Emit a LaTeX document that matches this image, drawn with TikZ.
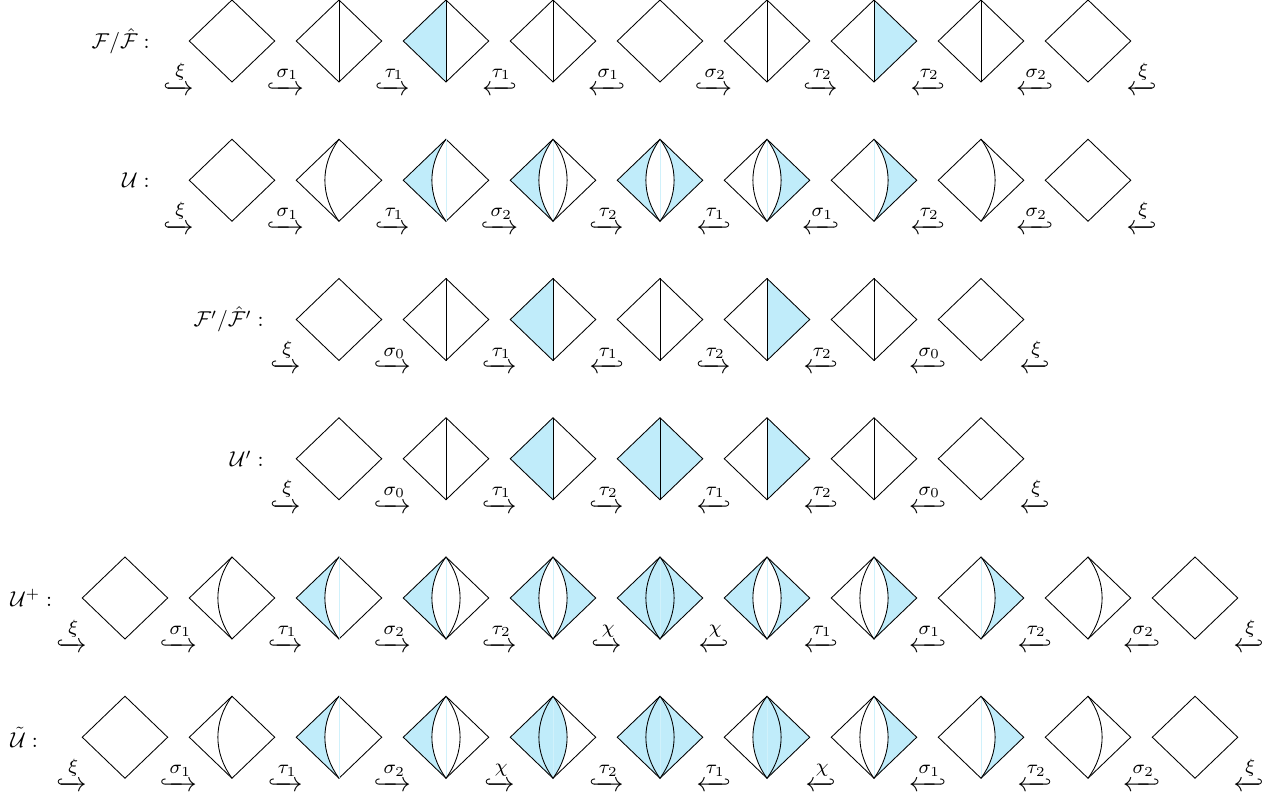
\RequirePackage{fix-cm}
\documentclass[tikz,border=0pt]{standalone}
\usepackage{amsmath,mathtools}
\usetikzlibrary{shapes.geometric,backgrounds}
\definecolor{cellblue}{RGB}{192,236,250}

% pieces of a diamond node #1
\newcommand{\leftHalf}[1]{(#1.north) -- (#1.west) -- (#1.south) -- cycle}
\newcommand{\rightHalf}[1]{(#1.north) -- (#1.east) -- (#1.south) -- cycle}
\newcommand{\leftOuter}[1]{(#1.north) -- (#1.west) -- (#1.south) to[bend left=36] (#1.north)}
\newcommand{\rightOuter}[1]{(#1.north) -- (#1.east) -- (#1.south) to[bend right=36] (#1.north)}
\newcommand{\lensPath}[1]{(#1.north) to[bend right=36] (#1.south) to[bend right=36] (#1.north)}
\newcommand{\leftArc}[1]{(#1.north) to[bend right=36] (#1.south)}
\newcommand{\rightArc}[1]{(#1.north) to[bend left=36] (#1.south)}
\newcommand{\midLine}[1]{(#1.north) -- (#1.south)}

\begin{document}
\begin{tikzpicture}[
    x=1.749cm, y=2.276cm,
    tile/.style={draw, diamond, minimum width=1.396cm, minimum height=1.341cm, inner sep=0pt, outer sep=0pt},
    tinted/.style={fill=cellblue},
    seam/.style={draw=cellblue!75, line width=0.3pt},
    arrowlab/.style={anchor=base, inner sep=0pt, font=\fontsize{12.8}{15}\selectfont},
    rowlab/.style={inner sep=0pt}
]
\useasboundingbox (-1.168,0.2945) rectangle (10.757,-5.474);

% Row 1: F / F-hat
\node[rowlab, anchor=east] (labA) at (0.234,0) {$\mathcal{F}/\hat{\mathcal{F}}:$};
\foreach \c in {1,...,9} \node[tile] (a\c) at (\c,0) {};
\begin{scope}[on background layer]
\fill[tinted] \leftHalf{a3};
\fill[tinted] \rightHalf{a7};
\end{scope}
\foreach \n in {a2,a3,a4,a6,a7,a8} \draw \midLine{\n};
\foreach \x/\l [count=\i] in {0.5/\xi, 1.5/\sigma_1, 2.5/\tau_1, 5.5/\sigma_2, 6.5/\tau_2}
  \node[arrowlab] (a-r\i) at (\x,-0.39) {$\xhookrightarrow{\l}$};
\foreach \x/\l [count=\i] in {3.5/\tau_1, 4.5/\sigma_1, 7.5/\tau_2, 8.5/\sigma_2, 9.5/\xi}
  \node[arrowlab] (a-l\i) at (\x,-0.39) {$\xhookleftarrow{\l}$};

% Row 2: U
\node[rowlab, anchor=east] (labB) at (0.234,-1) {$\mathcal{U}:$};
\foreach \c in {1,...,9} \node[tile] (b\c) at (\c,-1) {};
\begin{scope}[on background layer]
\fill[tinted] \leftOuter{b3};
\fill[tinted] \leftOuter{b4};
\fill[tinted] \leftOuter{b5};
\fill[tinted] \rightOuter{b5};
\fill[tinted] \rightOuter{b6};
\fill[tinted] \rightOuter{b7};
\end{scope}
\draw \leftArc{b2};
\draw[seam] \midLine{b3}; \draw \leftArc{b3};
\foreach \n in {b4,b5,b6} {\draw[seam] \midLine{\n}; \draw \lensPath{\n};}
\draw[seam] \midLine{b7}; \draw \rightArc{b7};
\draw \rightArc{b8};
\foreach \x/\l [count=\i] in {0.5/\xi, 1.5/\sigma_1, 2.5/\tau_1, 3.5/\sigma_2, 4.5/\tau_2}
  \node[arrowlab] (b-r\i) at (\x,-1.39) {$\xhookrightarrow{\l}$};
\foreach \x/\l [count=\i] in {5.5/\tau_1, 6.5/\sigma_1, 7.5/\tau_2, 8.5/\sigma_2, 9.5/\xi}
  \node[arrowlab] (b-l\i) at (\x,-1.39) {$\xhookleftarrow{\l}$};

% Row 3: F' / F-hat'
\node[rowlab, anchor=east] (labC) at (1.299,-2) {$\mathcal{F}'/\hat{\mathcal{F}}':$};
\foreach \c in {2,...,8} \node[tile] (c\c) at (\c,-2) {};
\begin{scope}[on background layer]
\fill[tinted] \leftHalf{c4};
\fill[tinted] \rightHalf{c6};
\end{scope}
\foreach \n in {c3,c4,c5,c6,c7} \draw \midLine{\n};
\foreach \x/\l [count=\i] in {1.5/\xi, 2.5/\sigma_0, 3.5/\tau_1, 5.5/\tau_2}
  \node[arrowlab] (c-r\i) at (\x,-2.39) {$\xhookrightarrow{\l}$};
\foreach \x/\l [count=\i] in {4.5/\tau_1, 6.5/\tau_2, 7.5/\sigma_0, 8.5/\xi}
  \node[arrowlab] (c-l\i) at (\x,-2.39) {$\xhookleftarrow{\l}$};

% Row 4: U'
\node[rowlab, anchor=east] (labD) at (1.299,-3) {$\mathcal{U}':$};
\foreach \c in {2,...,8} \node[tile] (d\c) at (\c,-3) {};
\begin{scope}[on background layer]
\fill[tinted] \leftHalf{d4};
\fill[tinted] \leftHalf{d5};
\fill[tinted] \rightHalf{d5};
\fill[tinted] \rightHalf{d6};
\end{scope}
\foreach \n in {d3,d4,d5,d6,d7} \draw \midLine{\n};
\foreach \x/\l [count=\i] in {1.5/\xi, 2.5/\sigma_0, 3.5/\tau_1, 4.5/\tau_2}
  \node[arrowlab] (d-r\i) at (\x,-3.39) {$\xhookrightarrow{\l}$};
\foreach \x/\l [count=\i] in {5.5/\tau_1, 6.5/\tau_2, 7.5/\sigma_0, 8.5/\xi}
  \node[arrowlab] (d-l\i) at (\x,-3.39) {$\xhookleftarrow{\l}$};

% Row 5: U+
\node[rowlab, anchor=west] (labE) at (-1.075,-4) {$\mathcal{U}^+:$};
\foreach \c in {0,...,10} \node[tile] (e\c) at (\c,-4) {};
\begin{scope}[on background layer]
\fill[tinted] \leftOuter{e2};
\fill[tinted] \leftOuter{e3};
\fill[tinted] \leftOuter{e4};
\fill[tinted] \rightOuter{e4};
\fill[tinted] \leftHalf{e5};
\fill[tinted] \rightHalf{e5};
\fill[tinted] \leftOuter{e6};
\fill[tinted] \rightOuter{e6};
\fill[tinted] \rightOuter{e7};
\fill[tinted] \rightOuter{e8};
\end{scope}
\draw \leftArc{e1};
\draw[seam] \midLine{e2}; \draw \leftArc{e2};
\foreach \n in {e3,e4,e5,e6,e7} {\draw[seam] \midLine{\n}; \draw \lensPath{\n};}
\draw[seam] \midLine{e8}; \draw \rightArc{e8};
\draw \rightArc{e9};
\foreach \x/\l [count=\i] in {-0.5/\xi, 0.5/\sigma_1, 1.5/\tau_1, 2.5/\sigma_2, 3.5/\tau_2, 4.5/\chi}
  \node[arrowlab] (e-r\i) at (\x,-4.39) {$\xhookrightarrow{\l}$};
\foreach \x/\l [count=\i] in {5.5/\chi, 6.5/\tau_1, 7.5/\sigma_1, 8.5/\tau_2, 9.5/\sigma_2, 10.5/\xi}
  \node[arrowlab] (e-l\i) at (\x,-4.39) {$\xhookleftarrow{\l}$};

% Row 6: U-tilde
\node[rowlab, anchor=west] (labF) at (-1.075,-5) {$\tilde{\mathcal{U}}:$};
\foreach \c in {0,...,10} \node[tile] (f\c) at (\c,-5) {};
\begin{scope}[on background layer]
\fill[tinted] \leftOuter{f2};
\fill[tinted] \leftOuter{f3};
\fill[tinted] \leftOuter{f4};
\fill[tinted] \lensPath{f4};
\fill[tinted] \leftHalf{f5};
\fill[tinted] \rightHalf{f5};
\fill[tinted] \lensPath{f6};
\fill[tinted] \rightOuter{f6};
\fill[tinted] \rightOuter{f7};
\fill[tinted] \rightOuter{f8};
\end{scope}
\draw \leftArc{f1};
\draw[seam] \midLine{f2}; \draw \leftArc{f2};
\foreach \n in {f3,f4,f5,f6,f7} {\draw[seam] \midLine{\n}; \draw \lensPath{\n};}
\draw[seam] \midLine{f8}; \draw \rightArc{f8};
\draw \rightArc{f9};
\foreach \x/\l [count=\i] in {-0.5/\xi, 0.5/\sigma_1, 1.5/\tau_1, 2.5/\sigma_2, 3.5/\chi, 4.5/\tau_2}
  \node[arrowlab] (f-r\i) at (\x,-5.39) {$\xhookrightarrow{\l}$};
\foreach \x/\l [count=\i] in {5.5/\tau_1, 6.5/\chi, 7.5/\sigma_1, 8.5/\tau_2, 9.5/\sigma_2, 10.5/\xi}
  \node[arrowlab] (f-l\i) at (\x,-5.39) {$\xhookleftarrow{\l}$};

\end{tikzpicture}
\end{document}
